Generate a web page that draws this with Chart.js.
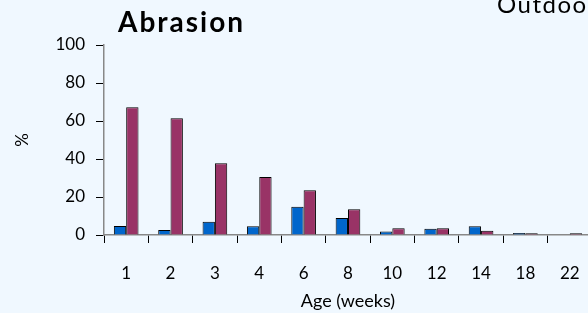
<!DOCTYPE html>
<html>
<head>
<meta charset="utf-8">
<script src="https://cdn.jsdelivr.net/npm/chart.js@4"></script>
<style>
  html, body { margin: 0; padding: 0; background: #F0F8FF; overflow: hidden; }
  #wrap { width: 600px; height: 313px; }
</style>
</head>
<body>
<div id="wrap"><canvas id="chart" width="600" height="313"></canvas></div>
<script>
// data
const ageWeeks = ['1', '2', '3', '4', '6', '8', '10', '12', '14', '18', '22'];
const seriesBlue = [4.7, 2.6, 7.0, 4.6, 14.9, 8.9, 1.9, 3.3, 4.6, 1.0, 0];
const seriesRed = [67.2, 61.4, 37.7, 30.5, 23.5, 13.5, 3.5, 3.5, 2.3, 0.9, 0.9];
const yTicks = [0, 20, 40, 60, 80, 100];

const FONT = 'Lato, "DejaVu Sans", sans-serif';

// titles drawn at fixed spots (chart title sits left of centre, second panel title cut off)
const headings = {
  id: 'headings',
  afterDraw(chart) {
    const ctx = chart.ctx;
    ctx.save();
    ctx.fillStyle = '#000';
    ctx.textBaseline = 'alphabetic';
    ctx.textAlign = 'left';
    ctx.font = 'bold 28px ' + FONT;
    ctx.letterSpacing = '2px';
    ctx.fillText('Abrasion', 118, 32);
    ctx.font = '24px ' + FONT;
    ctx.letterSpacing = '1.5px';
    ctx.fillText('Outdoor', 497, 13);
    ctx.restore();
  }
};

new Chart(document.getElementById('chart'), {
  type: 'bar',
  data: {
    labels: ageWeeks,
    datasets: [
      { label: 'A', data: seriesBlue, backgroundColor: '#0066CC', borderColor: '#000', borderWidth: 1 },
      { label: 'B', data: seriesRed, backgroundColor: '#993366', borderColor: '#000', borderWidth: 1 }
    ]
  },
  options: {
    responsive: false,
    animation: false,
    devicePixelRatio: 1,
    layout: { padding: { top: 45, right: 8, left: 0, bottom: 0 } },
    plugins: { legend: { display: false }, tooltip: { enabled: false } },
    datasets: { bar: { categoryPercentage: 0.556, barPercentage: 1 } },
    scales: {
      x: {
        afterFit(scale) { scale.height = 78; },
        grid: { offset: true, drawOnChartArea: false, color: '#000', tickLength: 8 },
        border: { color: '#888', width: 1.5 },
        ticks: { color: '#000', font: { family: FONT, size: 17 }, padding: 20, maxRotation: 0 },
        title: { display: true, text: 'Age (weeks)', color: '#000', font: { family: FONT, size: 18 }, padding: { top: 0, bottom: 1 } }
      },
      y: {
        min: 0,
        max: 100,
        afterFit(scale) { scale.width = 104; },
        afterBuildTicks(scale) { scale.ticks = yTicks.map(v => ({ value: v })); },
        grid: { drawOnChartArea: false, color: '#000', tickLength: 8 },
        border: { color: '#888', width: 1.5 },
        ticks: { color: '#000', font: { family: FONT, size: 17 }, padding: 11 },
        title: { display: true, text: '%', color: '#000', font: { family: FONT, size: 17 }, padding: { top: 12, bottom: 0 } }
      }
    }
  },
  plugins: [headings]
});
</script>
</body>
</html>
